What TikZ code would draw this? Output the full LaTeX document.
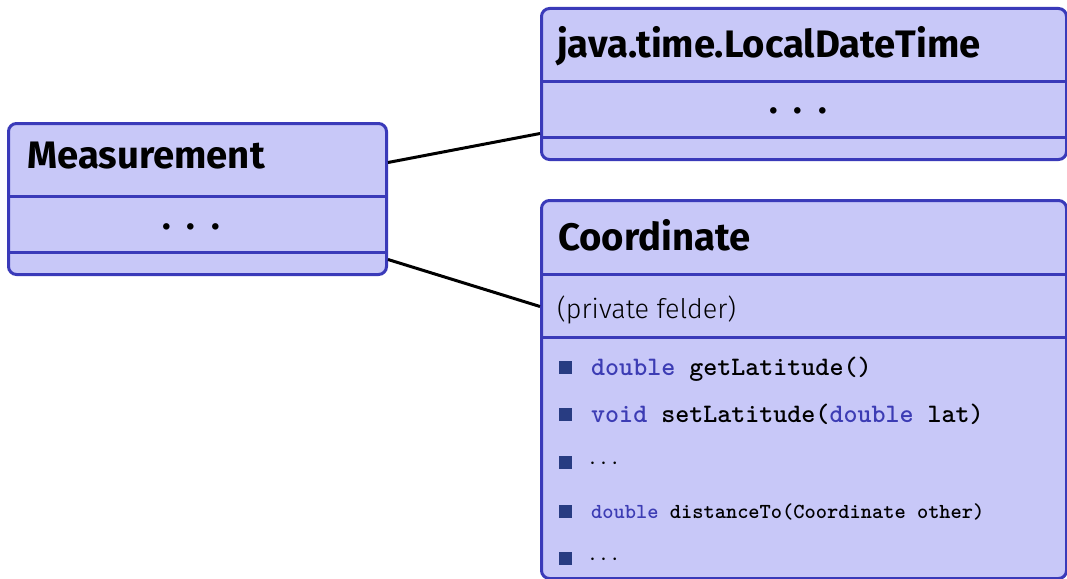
\documentclass[tikz,border=0pt]{standalone}
\usepackage{fontspec}
\setmainfont{Fira Sans}
\newfontfamily\firalight{Fira Sans Light}
\definecolor{boxfill}{RGB}{200,200,248}
\definecolor{boxdraw}{RGB}{58,58,185}
\definecolor{kw}{RGB}{60,60,180}
\definecolor{bul}{RGB}{40,60,130}
\begin{document}
\begin{tikzpicture}[x=1pt,y=-1pt,
  umlbox/.style={draw=boxdraw, fill=boxfill, line width=3pt, rounded corners=8pt, anchor=north west, inner sep=0pt},
  divider/.style={draw=boxdraw, line width=3pt},
  conn/.style={draw=black, line width=3pt},
  titletext/.style={anchor=base west, inner sep=0pt, font=\fontsize{38.3}{44}\selectfont\bfseries},
  bigdots/.style={inner sep=0pt, font=\fontsize{36}{40}\selectfont\bfseries},
  plaintext/.style={anchor=base west, inner sep=0pt, font=\fontsize{27}{32}\selectfont\firalight},
  code/.style={anchor=base west, inner sep=0pt, font=\fontsize{26.7}{30}\selectfont\ttfamily\bfseries},
  smallcode/.style={anchor=base west, inner sep=0pt, font=\fontsize{21.4}{25}\selectfont\ttfamily\bfseries},
  mathdots/.style={anchor=base west, inner sep=0pt, font=\fontsize{26}{30}\selectfont},
  bulletsq/.style={fill=bul, draw=none, minimum size=13pt, inner sep=0pt},
]
\useasboundingbox (0,0) rectangle (1067,578);

% Measurement
\node[umlbox, minimum width=378pt, minimum height=151pt] (meas) at (7,122) {};
\draw[divider] ([yshift=-74pt]meas.north west) -- ([yshift=-74pt]meas.north east);
\draw[divider] ([yshift=-130pt]meas.north west) -- ([yshift=-130pt]meas.north east);
\node[titletext] (meastitle) at (27,168) {Measurement};
\node[bigdots] (measdots) at (191,227) {.\hspace{16pt}.\hspace{16pt}.};

% LocalDateTime
\node[umlbox, minimum width=525pt, minimum height=151pt] (ldt) at (540,7) {};
\draw[divider] ([yshift=-74pt]ldt.north west) -- ([yshift=-74pt]ldt.north east);
\draw[divider] ([yshift=-130pt]ldt.north west) -- ([yshift=-130pt]ldt.north east);
\node[titletext] (ldttitle) at (557,57) {java.time.LocalDateTime};
\node[bigdots] (ldtdots) at (798,111) {.\hspace{16pt}.\hspace{16pt}.};

% Coordinate
\node[umlbox, minimum width=525pt, minimum height=378pt] (coord) at (540,199) {};
\draw[divider] ([yshift=-75pt]coord.north west) -- ([yshift=-75pt]coord.north east);
\draw[divider] ([yshift=-138pt]coord.north west) -- ([yshift=-138pt]coord.north east);
\node[titletext] (coordtitle) at (558,250) {Coordinate};
\node[plaintext] (priv) at (557,318) {(private felder)};

\node[bulletsq] (b1) at (565,367) {};
\node[code] (m1) at (591,375) {{\color{kw}double} getLatitude()};
\node[bulletsq] (b2) at (565,414) {};
\node[code] (m2) at (591,422) {{\color{kw}void} setLatitude({\color{kw}double} lat)};
\node[bulletsq] (b3) at (565,462) {};
\node[mathdots] (m3) at (589,469) {$\cdots$};
\node[bulletsq] (b4) at (565,511) {};
\node[smallcode] (m4) at (591,518) {{\color{kw}double} distanceTo(Coordinate other)};
\node[bulletsq] (b5) at (565,558) {};
\node[mathdots] (m5) at (589,565) {$\cdots$};

% connectors
\draw[conn] ([yshift=36.5pt]meas.east) -- ([yshift=-49.5pt]ldt.west);
\draw[conn] ([yshift=-60.5pt]meas.east) -- ([yshift=83pt]coord.west);
\end{tikzpicture}
\end{document}
